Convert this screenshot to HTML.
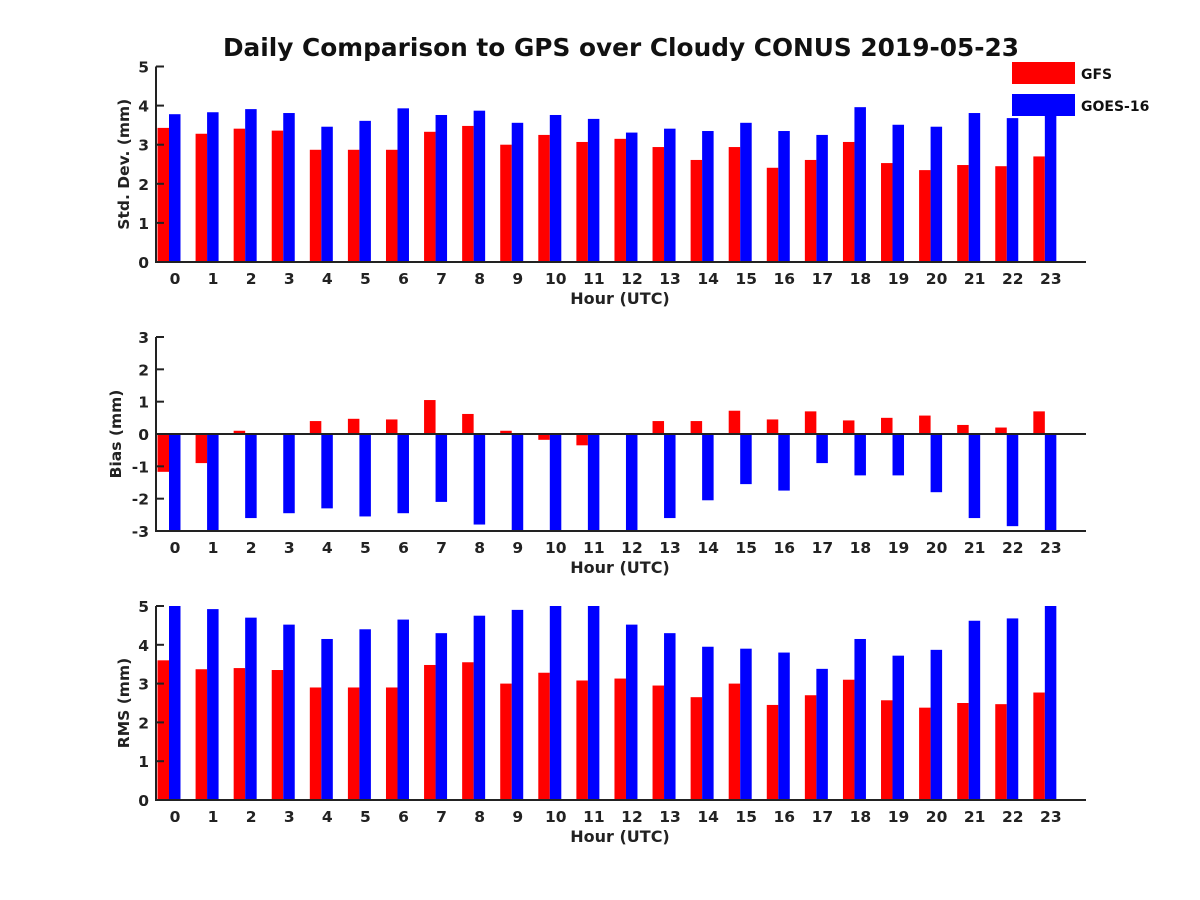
<!DOCTYPE html>
<html><head><meta charset="utf-8"><style>
body{margin:0;background:#fff}
svg{display:block;font-family:"DejaVu Sans","Liberation Sans",sans-serif;font-weight:bold}
</style></head><body>
<svg id="c" width="1200" height="900" viewBox="0 0 1200 900">
<rect width="1200" height="900" fill="#fff"/>
<text x="621" y="56" text-anchor="middle" font-size="24.8" fill="#111">Daily Comparison to GPS over Cloudy CONUS 2019-05-23</text>
<g>
<rect x="1012" y="62" width="63" height="22" fill="#f00"/>
<text x="1081" y="79" font-size="14" fill="#111">GFS</text>
</g>
</svg>
<script>
const hours=[0,1,2,3,4,5,6,7,8,9,10,11,12,13,14,15,16,17,18,19,20,21,22,23];
const stdGFS=[3.43,3.28,3.41,3.36,2.87,2.87,2.87,3.33,3.48,3.0,3.25,3.07,3.15,2.94,2.61,2.94,2.41,2.61,3.07,2.53,2.35,2.48,2.45,2.7];
const stdGOES=[3.78,3.83,3.91,3.81,3.46,3.61,3.93,3.76,3.87,3.56,3.76,3.66,3.31,3.41,3.35,3.56,3.35,3.25,3.96,3.51,3.46,3.81,3.68,4.0];
const biasGFS=[-1.17,-0.9,0.1,0,0.4,0.47,0.45,1.05,0.62,0.1,-0.18,-0.35,0,0.4,0.4,0.72,0.45,0.7,0.42,0.5,0.57,0.28,0.2,0.7];
const biasGOES=[-3.3,-3.3,-2.6,-2.45,-2.3,-2.55,-2.45,-2.1,-2.8,-3.3,-3.3,-3.3,-3.3,-2.6,-2.05,-1.55,-1.75,-0.9,-1.28,-1.28,-1.8,-2.6,-2.85,-3.3];
const rmsGFS=[3.6,3.37,3.4,3.35,2.9,2.9,2.9,3.48,3.55,3.0,3.28,3.08,3.13,2.95,2.65,3.0,2.45,2.7,3.1,2.57,2.38,2.5,2.47,2.77];
const rmsGOES=[5.2,4.92,4.7,4.52,4.15,4.4,4.65,4.3,4.75,4.9,5.2,5.2,4.52,4.3,3.95,3.9,3.8,3.38,4.15,3.72,3.87,4.62,4.68,5.2];
const stdTicks=[0,1,2,3,4,5], biasTicks=[-3,-2,-1,0,1,2,3], rmsTicks=[0,1,2,3,4,5];
const svg=document.getElementById('c');
const NS='http://www.w3.org/2000/svg';
function mk(tag,at,parent){const e=document.createElementNS(NS,tag);for(const k in at)e.setAttribute(k,at[k]);(parent||svg).appendChild(e);return e;}
const X0=156,X1=1086,STEP=38.08;
function xBar(i){return 157.5+STEP*i;}
function xLab(i){return 175+STEP*i;}
function panel(name,top,bot,ymin,ymax,ticks,red,blue,ylabel,ylx){
  const g=mk('g',{});
  
  
  const y=v=>bot-(v-ymin)/(ymax-ymin)*(bot-top);
  const clip=mk('clipPath',{id:'cl'+name},g);
  mk('rect',{x:X0,y:top,width:X1-X0,height:bot-top},clip);
  const bars=mk('g',{'clip-path':'url(#cl'+name+')'},g);
  const base=Math.max(ymin,0);
  hours.forEach((h,i)=>{
    [[red,'#f00',0,'gfs'],[blue,'#00f',11.5,'goes']].forEach(([arr,col,off,s])=>{
      const v=arr[i];const y1=y(v),y0=y(base);
      const r=mk('rect',{x:xBar(i)+off,y:Math.min(y0,y1),width:11.5,height:Math.abs(y1-y0),fill:col},bars);
      
      
    });
    const t=mk('text',{x:xLab(i),y:bot+22,'text-anchor':'middle','font-size':15.5,fill:'#222'},g);
    t.textContent=h;
    
    
  });
  if(ymin<0){mk('line',{x1:X0,x2:X1,y1:y(0),y2:y(0),stroke:'#222','stroke-width':2},g);}
  mk('line',{x1:X0,x2:X0,y1:top,y2:bot+1,stroke:'#222','stroke-width':2},g);
  mk('line',{x1:X0-1,x2:X1,y1:bot,y2:bot,stroke:'#222','stroke-width':2},g);
  ticks.forEach(v=>{
    mk('line',{x1:X0,x2:X0+8,y1:y(v),y2:y(v),stroke:'#222','stroke-width':2},g);
    const t=mk('text',{x:X0-7,y:y(v)+6,'text-anchor':'end','font-size':15.5,fill:'#222'},g);
    t.textContent=v;
    
    
  });
  const xl=mk('text',{x:620,y:bot+42,'text-anchor':'middle','font-size':16,fill:'#222'},g);
  xl.textContent='Hour (UTC)';
  
  
  const cy=(top+bot)/2;
  const yl=mk('text',{x:ylx,y:cy,'text-anchor':'middle','font-size':15.5,fill:'#222',transform:'rotate(-90 '+ylx+' '+cy+')'},g);
  yl.textContent=ylabel;
  
  
}
panel('std',66.5,262,0,5,stdTicks,stdGFS,stdGOES,'Std. Dev. (mm)',129);
panel('bias',337,531,-3,3,biasTicks,biasGFS,biasGOES,'Bias (mm)',121);
panel('rms',606,800,0,5,rmsTicks,rmsGFS,rmsGOES,'RMS (mm)',129);
const lg=mk('g',{});


mk('rect',{x:1012,y:94,width:63,height:22,fill:'#00f'},lg);
const lt=mk('text',{x:1081,y:111,'font-size':14,fill:'#111'},lg);
lt.textContent='GOES-16';
</script>
</body></html>
